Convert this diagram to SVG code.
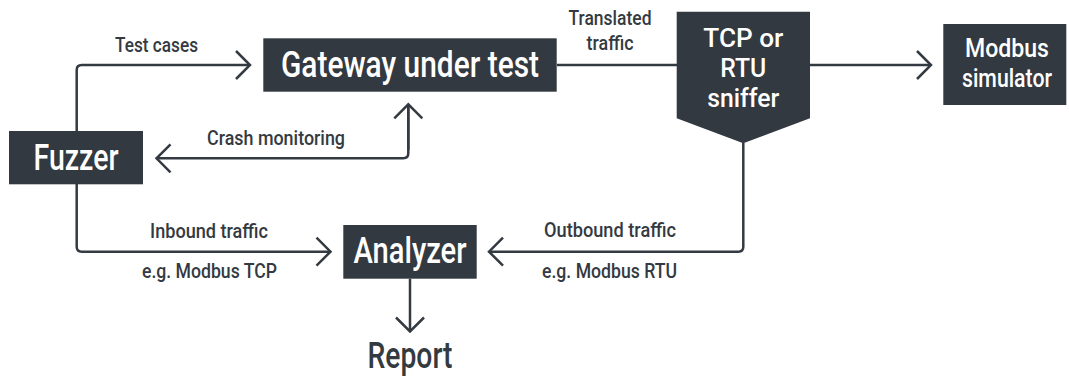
<svg xmlns="http://www.w3.org/2000/svg" width="1069" height="376" viewBox="0 0 1069 376">
<defs>
<style>
.box{fill:#323940}
.nl{font-family:Roboto,"Liberation Sans",sans-serif;font-weight:500;fill:#ffffff;text-anchor:middle}
.big{font-size:36px}
.mid{font-size:26px}
.lbl{font-family:Roboto,"Liberation Sans",sans-serif;font-weight:500;font-size:20px;fill:#343a41}
.c{text-anchor:middle}
.ln{fill:none;stroke:#343a41;stroke-width:2.5}
</style>
<marker id="chev" viewBox="-16 -16 18 32" refX="0" refY="0" markerWidth="18" markerHeight="32" markerUnits="userSpaceOnUse" orient="auto">
<path d="M-14 -14 L0 0 L-14 14" fill="none" stroke="#343a41" stroke-width="2.5"/>
</marker>
</defs>
<rect width="1069" height="376" fill="#ffffff"/>
<g id="connectors">
<path class="ln" d="M76.7 131 V70 Q76.7 65 81.7 65 H250" marker-end="url(#chev)"/>
<path class="ln" d="M408.3 104.3 V153.3 Q408.3 158.3 403.3 158.3 H156.5" marker-end="url(#chev)"/>
<path class="ln" d="M408.3 150 V104.3" marker-end="url(#chev)"/>
<path class="ln" d="M557 65 H677"/>
<path class="ln" d="M810 65 H931" marker-end="url(#chev)"/>
<path class="ln" d="M76.7 184 V246.7 Q76.7 251.7 81.7 251.7 H330.5" marker-end="url(#chev)"/>
<path class="ln" d="M743.3 143 V246.7 Q743.3 251.7 738.3 251.7 H489" marker-end="url(#chev)"/>
<path class="ln" d="M410 278.7 V331.5" marker-end="url(#chev)"/>
<text class="lbl" x="115" y="52" textLength="83" lengthAdjust="spacingAndGlyphs">Test cases</text>
<text class="lbl" x="207" y="145" textLength="138" lengthAdjust="spacingAndGlyphs">Crash monitoring</text>
<text class="lbl c" x="610" y="25" textLength="83" lengthAdjust="spacingAndGlyphs">Translated</text>
<text class="lbl c" x="610" y="50" textLength="47" lengthAdjust="spacingAndGlyphs">traffic</text>
<text class="lbl" x="150" y="238" textLength="118" lengthAdjust="spacingAndGlyphs">Inbound traffic</text>
<text class="lbl" x="142" y="278" textLength="135" lengthAdjust="spacingAndGlyphs">e.g. Modbus TCP</text>
<text class="lbl" x="544" y="237" textLength="132" lengthAdjust="spacingAndGlyphs">Outbound traffic</text>
<text class="lbl" x="542" y="277.5" textLength="135" lengthAdjust="spacingAndGlyphs">e.g. Modbus RTU</text>
</g>
<g id="fuzzer">
<rect class="box" x="9" y="131" width="134" height="53.3"/>
<text class="nl big" x="76" y="170" textLength="85" lengthAdjust="spacingAndGlyphs">Fuzzer</text>
</g>
<g id="gateway">
<rect class="box" x="263.3" y="38.3" width="293.4" height="53.4"/>
<text class="nl big" x="410" y="76.7" textLength="258" lengthAdjust="spacingAndGlyphs">Gateway under test</text>
</g>
<g id="sniffer">
<path class="box" d="M676.7 11.7 H810 V118.3 L743.3 143.3 L676.7 118.3 Z"/>
<text class="nl mid" x="743.3" y="47" textLength="80" lengthAdjust="spacingAndGlyphs">TCP or</text>
<text class="nl mid" x="743.3" y="77" textLength="46" lengthAdjust="spacingAndGlyphs">RTU</text>
<text class="nl mid" x="743.3" y="107" textLength="72" lengthAdjust="spacingAndGlyphs">sniffer</text>
</g>
<g id="modbus">
<rect class="box" x="943.3" y="24" width="123" height="81"/>
<text class="nl" style="font-size:25px" x="1007" y="56.7" textLength="84" lengthAdjust="spacingAndGlyphs">Modbus</text>
<text class="nl" style="font-size:25px" x="1007" y="86.7" textLength="90" lengthAdjust="spacingAndGlyphs">simulator</text>
</g>
<g id="analyzer">
<rect class="box" x="343.3" y="225" width="133.4" height="53.7"/>
<text class="nl big" x="410" y="263.3" textLength="113" lengthAdjust="spacingAndGlyphs">Analyzer</text>
</g>
<g id="report">
<text class="lbl c" style="font-size:36px" x="410" y="368" textLength="85" lengthAdjust="spacingAndGlyphs">Report</text>
</g>
</svg>
